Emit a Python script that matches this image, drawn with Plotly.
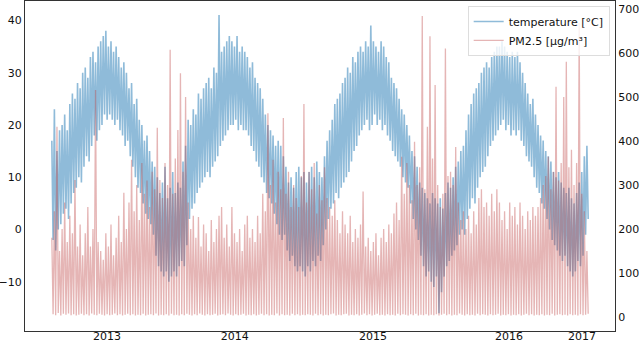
import pandas as pd
import plotly.graph_objects as go

START = "2013-03-01"

# weekly high / low of hourly temperature [°C]
temp_hi = [
    17, 23, 15, 19, 20, 22, 19, 24, 26, 25,
    28, 27, 30, 31, 29, 33, 34, 32, 35, 36,
    37, 38, 35, 36, 34, 35, 33, 31, 32, 30,
    27, 28, 24, 25, 21, 20, 17, 18, 15, 13,
    12, 10, 7, 9, 12, 6, 8, 11, 7, 9,
    8, 13, 16, 21, 20, 23, 22, 26, 25, 27,
    28, 29, 27, 31, 30, 41, 34, 35, 36, 37,
    36, 35, 37, 34, 35, 34, 33, 31, 32, 29,
    28, 27, 25, 22, 20, 19, 18, 16, 17, 16,
    14, 12, 9, 10, 8, 11, 12, 10, 11, 9,
    11, 12, 10, 13, 11, 10, 14, 17, 19, 21,
    24, 25, 26, 28, 29, 31, 30, 33, 32, 34,
    35, 34, 36, 35, 39, 36, 35, 34, 36, 35,
    33, 32, 29, 28, 27, 25, 23, 22, 20, 18,
    15, 14, 12, 9, 8, 7, 6, 5, 7, 6,
    5, 6, 4, 7, 9, 8, 10, 12, 13, 15,
    16, 19, 22, 24, 26, 27, 28, 30, 31, 32,
    31, 33, 34, 35, 35, 36, 35, 34, 33, 34,
    33, 34, 32, 30, 28, 26, 24, 25, 22, 20,
    18, 17, 15, 14, 13, 11, 10, 11, 9, 8,
    7, 8, 6, 5, 7, 9, 11, 14, 16,
]
temp_lo = [
    -2, -4, 0, 1, 3, 4, 2, 5, 7, 8,
    10, 9, 12, 14, 13, 16, 18, 17, 19, 20,
    22, 21, 22, 21, 20, 21, 19, 18, 16, 17,
    14, 12, 10, 8, 7, 5, 3, 2, 1, -1,
    -5, -7, -8, -9, -8, -10, -9, -8, -9, -7,
    -6, -7, -3, 2, 4, 5, 7, 8, 9, 10,
    11, 10, 12, 13, 14, 16, 17, 18, 19, 20,
    20, 21, 19, 20, 19, 19, 18, 16, 15, 13,
    12, 10, 9, 7, 6, 5, 3, 1, -1, -2,
    -1, -4, -6, -5, -7, -8, -7, -8, -9, -7,
    -8, -6, -7, -5, -6, -3, 0, 2, 4, 5,
    7, 6, 8, 9, 10, 11, 13, 15, 16, 18,
    19, 20, 21, 19, 20, 22, 20, 21, 19, 20,
    18, 17, 15, 14, 13, 12, 10, 9, 8, 5,
    2, 0, -2, -5, -7, -9, -8, -10, -11, -9,
    -16, -12, -9, -7, -6, -5, -4, -3, -1, 0,
    -1, 2, 4, 6, 5, 8, 10, 11, 12, 14,
    16, 17, 18, 19, 20, 21, 19, 20, 18, 19,
    18, 19, 17, 16, 14, 13, 12, 10, 8, 7,
    5, 4, 2, 0, -2, -3, -4, -5, -6, -5,
    -7, -8, -9, -8, -6, -7, -5, -1, 2,
]

# weekly peak / trough of hourly PM2.5 [µg/m³]
pm_hi = [
    180, 240, 432, 150, 200, 260, 170, 230, 190, 311,
    160, 210, 140, 190, 250, 160, 200, 516, 170, 150,
    130, 190, 160, 210, 140, 180, 230, 170, 282, 200,
    260, 357, 240, 300, 220, 350, 280, 310, 250, 330,
    290, 430, 311, 270, 350, 300, 607, 280, 360, 425,
    554, 330, 500, 260, 200, 230, 180, 227, 160, 210,
    190, 150, 220, 170, 200, 230, 250, 180, 210, 160,
    250, 190, 170, 200, 150, 210, 230, 180, 200, 170,
    230, 190, 280, 240, 463, 300, 357, 260, 330, 290,
    452, 280, 330, 250, 300, 270, 250, 320, 484, 260,
    330, 290, 350, 235, 300, 265, 340, 270, 250, 230,
    265, 220, 190, 240, 210, 190, 230, 170, 200, 180,
    210, 285, 160, 180, 150, 170, 190, 140, 180, 200,
    170, 210, 190, 235, 260, 220, 364, 280, 350, 300,
    265, 398, 300, 340, 684, 290, 432, 638, 360, 527,
    300, 250, 280, 610, 320, 330, 300, 386, 260, 220,
    240, 200, 230, 190, 240, 210, 270, 290, 250, 260,
    230, 280, 240, 290, 260, 220, 240, 200, 260, 230,
    250, 210, 260, 230, 200, 240, 220, 250, 230, 250,
    270, 300, 320, 364, 290, 330, 523, 310, 350, 500,
    580, 340, 380, 300, 350, 668, 280, 240, 150,
]
pm_lo = [
    6, 4, 9, 3, 7, 5, 8, 4, 6, 3,
    5, 7, 4, 6, 3, 8, 5, 4, 7, 5,
    3, 6, 4, 5, 8, 4, 6, 3, 5, 7,
    4, 6, 3, 5, 4, 7, 3, 5, 6, 4,
    8, 3, 5, 4, 6, 3, 7, 4, 5, 3,
    6, 4, 7, 5, 3, 6, 4, 8, 5, 3,
    6, 4, 5, 7, 3, 5, 6, 4, 8, 5,
    3, 6, 4, 5, 7, 3, 5, 4, 6, 3,
    5, 7, 4, 6, 3, 5, 4, 8, 3, 6,
    4, 5, 3, 7, 4, 6, 3, 5, 4, 6,
    5, 3, 7, 4, 6, 3, 5, 4, 6, 8,
    3, 5, 4, 6, 7, 3, 5, 4, 6, 3,
    5, 8, 4, 6, 3, 5, 7, 4, 5, 3,
    6, 4, 5, 3, 7, 4, 6, 5, 3, 6,
    4, 7, 3, 5, 4, 6, 3, 5, 4, 6,
    3, 5, 7, 4, 6, 3, 5, 4, 8, 5,
    3, 6, 4, 5, 3, 7, 4, 6, 5, 3,
    6, 4, 5, 7, 3, 5, 4, 6, 3, 5,
    4, 6, 3, 5, 7, 4, 6, 3, 5, 4,
    6, 3, 5, 4, 7, 3, 5, 6, 4, 5,
    3, 6, 4, 5, 3, 6, 4, 5, 7,
]

tick_dates = ["2013-07-29", "2014-07-12", "2015-07-23", "2016-07-27", "2017-02-11"]
tick_labels = ["2013", "2014", "2015", "2016", "2017"]

FONT = "DejaVu Sans, Arial, sans-serif"


def zigzag(hi, lo):
    """one peak at the start of each week, one trough half a week later"""
    weeks = pd.date_range(START, periods=len(hi), freq="7D")
    xs, ys = [], []
    for day, h, l in zip(weeks, hi, lo):
        xs += [day, day + pd.Timedelta(hours=84)]
        ys += [h, l]
    return xs, ys


t_x, t_y = zigzag(temp_hi, temp_lo)
p_x, p_y = zigzag(pm_hi, pm_lo)

span = t_x[-1] - t_x[0]
x_range = [t_x[0] - 0.05 * span, t_x[-1] + 0.05 * span]

fig = go.Figure()
fig.add_trace(
    go.Scatter(
        x=t_x,
        y=t_y,
        mode="lines",
        name="temperature [°C]",
        line=dict(color="rgba(31,119,180,0.5)", width=1.6),
    )
)
fig.add_trace(
    go.Scatter(
        x=p_x,
        y=p_y,
        mode="lines",
        name="PM2.5 [µg/m³]",
        yaxis="y2",
        line=dict(color="rgba(190,70,70,0.4)", width=1.3),
    )
)

axis_style = dict(
    showline=True,
    linecolor="#333",
    linewidth=1,
    showgrid=False,
    zeroline=False,
    ticks="",
    automargin=False,
    tickfont=dict(family=FONT, size=11, color="#111"),
)

fig.update_layout(
    width=640,
    height=343,
    margin=dict(l=25, r=25, t=1, b=12),
    plot_bgcolor="white",
    paper_bgcolor="white",
    showlegend=True,
    xaxis=dict(
        **axis_style,
        mirror=True,
        type="date",
        range=x_range,
        tickvals=tick_dates,
        ticktext=tick_labels,
        ticklabelstandoff=-5,
    ),
    yaxis=dict(**axis_style, range=[-19.4, 43.7], dtick=10, tick0=0),
    yaxis2=dict(
        **axis_style,
        overlaying="y",
        side="right",
        range=[-32, 718],
        dtick=100,
        tick0=0,
    ),
    legend=dict(
        x=0.991,
        y=0.985,
        xanchor="right",
        yanchor="top",
        bgcolor="rgba(255,255,255,0.8)",
        bordercolor="#ddd",
        borderwidth=1,
        font=dict(family=FONT, size=11, color="#111"),
    ),
)

# the page body has a default 8px margin; drop it so the figure fills the window
fig.write_html(
    "out.html",
    config={"displayModeBar": False},
    post_script="document.body.style.margin='0';document.body.style.overflow='hidden';",
)
